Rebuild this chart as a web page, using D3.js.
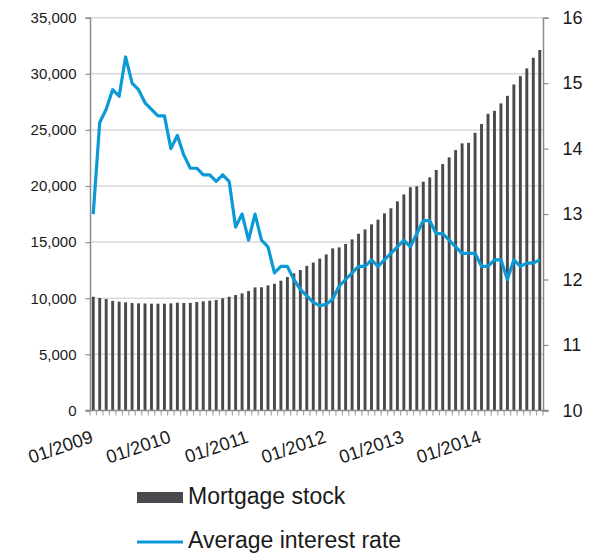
<!DOCTYPE html>
<html>
<head>
<meta charset="utf-8">
<script src="https://cdn.jsdelivr.net/npm/d3@7"></script>
<style>
  html, body { margin: 0; padding: 0; background: #fff; }
  svg { display: block; font-family: "Liberation Sans", Arial, sans-serif; }
</style>
</head>
<body>
<svg id="chart" width="595" height="556"></svg>
<script>
// Monthly categories, January 2009 – October 2014
const months = d3.timeMonth.range(new Date(2009, 0, 1), new Date(2014, 10, 1));
const fmtMonth = d3.timeFormat("%m/%Y");
const categories = months.map(fmtMonth);

// Mortgage stock (left axis)
const mortgageStock = [
  10130, 10020, 9930, 9760, 9690, 9630, 9570, 9540, 9530, 9510, 9510, 9510,
  9540, 9600, 9570, 9580, 9660, 9720, 9780, 9840, 9990, 10130, 10280, 10430,
  10640, 10960, 10970, 11140, 11290, 11560, 11890, 12210, 12510, 12880, 13180, 13530,
  13900, 14440, 14530, 14830, 15240, 15740, 16130, 16580, 17000, 17560, 18010, 18630,
  19250, 19890, 19980, 20380, 20770, 21430, 21950, 22550, 23200, 23800, 23850, 24740,
  25520, 26440, 26700, 27360, 28040, 29050, 29790, 30480, 31430, 32120
];

// Average interest rate, % (right axis)
const interestRate = [
  13.0, 14.4, 14.6, 14.9, 14.8, 15.4, 15.0, 14.9, 14.7, 14.6, 14.5, 14.5,
  14.0, 14.2, 13.9, 13.7, 13.7, 13.6, 13.6, 13.5, 13.6, 13.5, 12.8, 13.0,
  12.6, 13.0, 12.6, 12.5, 12.1, 12.2, 12.2, 12.0, 11.85, 11.75, 11.65, 11.6,
  11.62, 11.7, 11.9, 12.0, 12.1, 12.2, 12.2, 12.3, 12.2, 12.3, 12.4, 12.5,
  12.6, 12.5, 12.7, 12.9, 12.9, 12.7, 12.7, 12.6, 12.5, 12.4, 12.4, 12.4,
  12.2, 12.2, 12.3, 12.3, 12.0, 12.3, 12.2, 12.25, 12.25, 12.3
];

const xTickLabels = ["01/2009", "01/2010", "01/2011", "01/2012", "01/2013", "01/2014"];
const leftTicks = [0, 5000, 10000, 15000, 20000, 25000, 30000, 35000];
const rightTicks = [10, 11, 12, 13, 14, 15, 16];
const seriesNames = ["Mortgage stock", "Average interest rate"];

const barColor = "#48484d";
const lineColor = "#0b9ad6";
const axisColor = "#8c8c8c";
const gridColor = "#d9d9d9";
const textColor = "#1a1a1a";

const plot = { left: 90, right: 543, top: 17.7, bottom: 410.4 };

const svg = d3.select("#chart");

const x = d3.scaleBand()
  .domain(categories)
  .range([plot.left, plot.right])
  .paddingInner(0.55)
  .paddingOuter(0.275);

const yLeft = d3.scaleLinear().domain([0, 35000]).range([plot.bottom, plot.top]);
const yRight = d3.scaleLinear().domain([10, 16]).range([plot.bottom, plot.top]);

// Horizontal gridlines
svg.append("g")
  .selectAll("line")
  .data(leftTicks.slice(1))
  .join("line")
  .attr("x1", plot.left).attr("x2", plot.right)
  .attr("y1", d => yLeft(d)).attr("y2", d => yLeft(d))
  .attr("stroke", gridColor).attr("stroke-width", 1.5);

// Bars
svg.append("g")
  .selectAll("rect")
  .data(mortgageStock)
  .join("rect")
  .attr("x", (d, i) => x(categories[i]))
  .attr("width", x.bandwidth())
  .attr("y", d => yLeft(d))
  .attr("height", d => yLeft(0) - yLeft(d))
  .attr("fill", barColor);

// Left axis
const leftAxis = svg.append("g")
  .attr("transform", `translate(${plot.left},0)`)
  .call(d3.axisLeft(yLeft).tickValues(leftTicks).tickSize(4.5).tickPadding(9)
    .tickFormat(d3.format(",")));
leftAxis.select(".domain").attr("stroke", axisColor).attr("stroke-width", 1.5);
leftAxis.selectAll(".tick line").attr("stroke", axisColor).attr("stroke-width", 1.2);
leftAxis.selectAll("text").attr("font-size", 15).attr("fill", textColor)
  .attr("font-family", "Liberation Sans, Arial, sans-serif");

// Right axis
const rightAxis = svg.append("g")
  .attr("transform", `translate(${plot.right},0)`)
  .call(d3.axisRight(yRight).tickValues(rightTicks).tickSize(5.5).tickPadding(14)
    .tickFormat(d3.format("d")));
rightAxis.select(".domain").attr("stroke", axisColor).attr("stroke-width", 1.5);
rightAxis.selectAll(".tick line").attr("stroke", axisColor).attr("stroke-width", 1.2);
rightAxis.selectAll("text").attr("font-size", 18).attr("fill", textColor)
  .attr("font-family", "Liberation Sans, Arial, sans-serif");

// Bottom axis with small ticks at every category boundary
const bottom = svg.append("g");
bottom.selectAll("line.cat")
  .data(categories.concat(["__end"]))
  .join("line")
  .attr("class", "cat")
  .attr("x1", (d, i) => plot.left + i * x.step())
  .attr("x2", (d, i) => plot.left + i * x.step())
  .attr("y1", plot.bottom).attr("y2", plot.bottom + 5)
  .attr("stroke", "#a6a6a6").attr("stroke-width", 1.2);
bottom.append("line")
  .attr("x1", plot.left - 4.5).attr("x2", plot.right + 5.5)
  .attr("y1", plot.bottom).attr("y2", plot.bottom)
  .attr("stroke", axisColor).attr("stroke-width", 1.5);

// Rotated year labels
bottom.selectAll("text")
  .data(xTickLabels)
  .join("text")
  .attr("transform", d => `translate(${x(d) + x.bandwidth() / 2 + 1},442) rotate(-19)`)
  .attr("text-anchor", "end")
  .attr("font-size", 18.5)
  .attr("fill", textColor)
  .text(d => d);

// Interest-rate line
const line = d3.line()
  .x((d, i) => x(categories[i]) + x.bandwidth() / 2)
  .y(d => yRight(d));
svg.append("path")
  .datum(interestRate)
  .attr("d", line)
  .attr("fill", "none")
  .attr("stroke", lineColor)
  .attr("stroke-width", 3.2)
  .attr("stroke-linejoin", "round");

// Legend
const legend = svg.append("g");
legend.append("rect")
  .attr("x", 137).attr("y", 492).attr("width", 46).attr("height", 11)
  .attr("fill", barColor);
legend.append("text")
  .attr("x", 188).attr("y", 504)
  .attr("font-size", 23).attr("fill", textColor)
  .text(seriesNames[0]);
legend.append("line")
  .attr("x1", 137).attr("x2", 183).attr("y1", 542).attr("y2", 542)
  .attr("stroke", lineColor).attr("stroke-width", 3);
legend.append("text")
  .attr("x", 188).attr("y", 548)
  .attr("font-size", 23).attr("fill", textColor)
  .text(seriesNames[1]);
</script>
</body>
</html>
